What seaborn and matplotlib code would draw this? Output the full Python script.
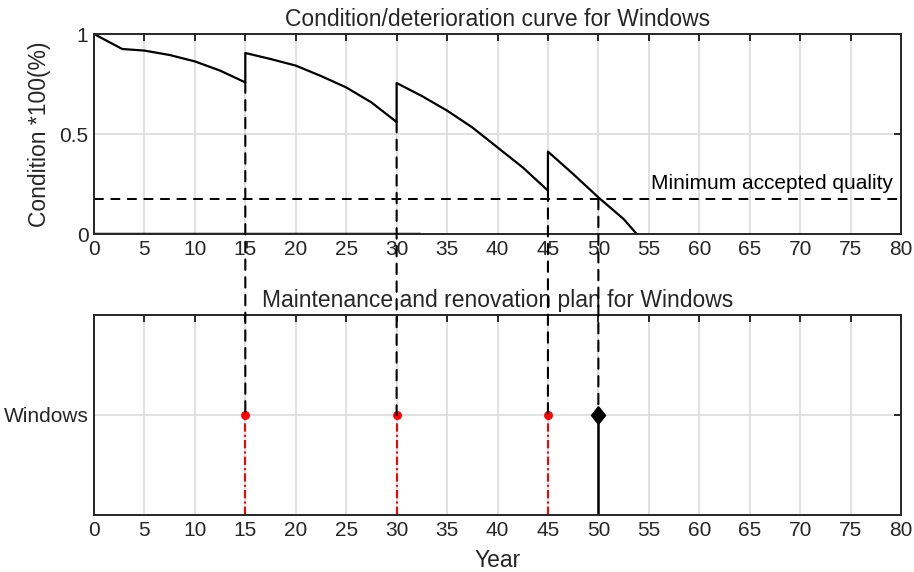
import matplotlib
matplotlib.use("Agg")
import matplotlib.pyplot as plt
import seaborn as sns
import numpy as np
import pandas as pd
from matplotlib.patches import ConnectionPatch

sns.set_style("white")
plt.rcParams['font.family'] = ['Liberation Sans', 'DejaVu Sans']

# Data
curve_years = [0, 2.8, 5, 7.5, 10, 12.5, 15,
               15, 17.5, 20, 22.5, 25, 27.5, 30,
               30, 32.5, 35, 37.5, 40, 42.5, 45,
               45, 47.5, 50, 52.5, 53.8]
curve_condition = [1.0, 0.925, 0.917, 0.895, 0.863, 0.817, 0.758,
                   0.905, 0.875, 0.842, 0.790, 0.733, 0.658, 0.560,
                   0.755, 0.690, 0.617, 0.533, 0.433, 0.333, 0.217,
                   0.412, 0.300, 0.183, 0.075, 0.0]
zero_years = [0, 32.3]
zero_condition = [0, 0]
min_quality = 0.175
action_years = [15, 30, 45]
action_low = [0.758, 0.560, 0.217]
end_year = 50
component = "Windows"
xticks = list(range(0, 85, 5))

fig = plt.figure(figsize=(9.14, 5.72), dpi=100)
ax1 = fig.add_axes([94/914, 1-234/572, 807/914, 200/572])
ax2 = fig.add_axes([94/914, 1-515/572, 807/914, 200/572])

fs = 15
fl = 16.5
for ax in (ax1, ax2):
    ax.set_xlim(0, 80)
    ax.set_xticks(xticks)
    ax.grid(True, color='#dcdcdc', linewidth=1.2)
    ax.tick_params(direction='in', top=True, right=True, length=5, width=1.4,
                   labelsize=fs, colors='#262626', pad=4)
    for s in ax.spines.values():
        s.set_linewidth(1.4)
        s.set_color('#262626')
    ax.set_axisbelow(True)

# Top plot
df = pd.DataFrame({"Year": curve_years, "Condition": curve_condition})
sns.lineplot(data=df, x="Year", y="Condition", sort=False, estimator=None,
             color='black', linewidth=1.6, ax=ax1)
sns.lineplot(x=zero_years, y=zero_condition, sort=False, estimator=None,
             color='black', linewidth=2.5, ax=ax1)
ax1.axhline(min_quality, color='black', linestyle=(0, (5, 3.5)), linewidth=1.4)
ax1.text(79.2, min_quality + 0.03, "Minimum accepted quality", ha='right', va='bottom',
         fontsize=fs, color='black')
ax1.set_ylim(0, 1)
ax1.set_yticks([0, 0.5, 1])
ax1.set_yticklabels(["0", "0.5", "1"])
ax1.set_xlabel("")
ax1.set_ylabel("Condition *100(%)", fontsize=fl, labelpad=6)
ax1.set_title("Condition/deterioration curve for Windows", fontsize=fl, pad=6)

# Bottom plot
ax2.set_ylim(0, 2)
ax2.set_yticks([1])
ax2.set_yticklabels([component])
for x in action_years:
    sns.lineplot(x=[x, x], y=[0, 1], sort=False, estimator=None, color='red',
                 linestyle=(0, (4, 1.5, 1, 1.5)), linewidth=1.5, ax=ax2)
sns.lineplot(x=[end_year, end_year], y=[0, 1], sort=False, estimator=None,
             color='black', linewidth=1.8, ax=ax2)
sns.scatterplot(x=action_years, y=[1]*len(action_years), color='red', s=35,
                marker='o', edgecolor='red', ax=ax2, zorder=5)
diamond = [(0, 1), (0.8, 0), (0, -1), (-0.8, 0), (0, 1)]
sns.scatterplot(x=[end_year], y=[1], color='black', s=160, marker=diamond,
                edgecolor='black', ax=ax2, zorder=5)
ax2.set_xlabel("Year", fontsize=fl, labelpad=7)
ax2.set_ylabel("")
ax2.set_title("Maintenance and renovation plan for Windows", fontsize=fl, pad=6)

# Connecting dashed lines
for x, y in zip(action_years + [end_year], action_low + [min_quality]):
    con = ConnectionPatch(xyA=(x, y), coordsA=ax1.transData,
                          xyB=(x, 1), coordsB=ax2.transData,
                          color='black', linestyle=(0, (5, 3.5)), linewidth=1.5, zorder=10)
    fig.add_artist(con)

fig.savefig("out.png", dpi=100)
